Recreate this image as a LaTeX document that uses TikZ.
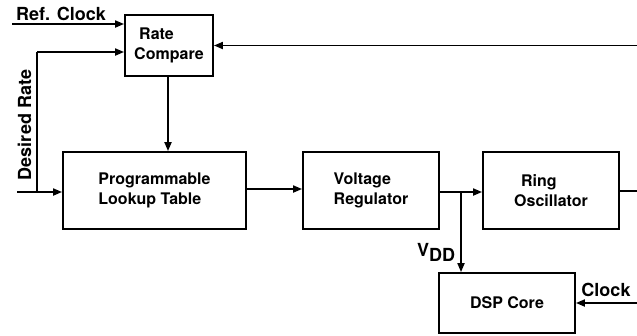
\documentclass[tikz,border=0pt]{standalone}
\usepackage{fontspec}
\setmainfont{TeX Gyre Heros}
\usetikzlibrary{arrows.meta}
\begin{document}
\begin{tikzpicture}[x=1pt,y=-1pt,
  blk/.style={draw, line width=1.8pt, inner sep=0pt, font=\fontsize{16}{19.5}\selectfont\bfseries, align=left},
  lbl/.style={inner sep=0pt, font=\fontsize{18}{20}\selectfont\bfseries},
  conn/.style={line width=1.8pt},
  arr/.style={conn, -{Triangle[length=9pt,width=7pt]}}]
\useasboundingbox (0,0) rectangle (637,335);
\clip (0,0) rectangle (637,335);
% blocks
\node[blk, minimum width=88pt, minimum height=61pt] (rc) at (169,45.5) {\hspace{5pt}Rate\\Compare};
\node[blk, minimum width=183pt, minimum height=77pt] (lut) at (154.5,190.5) {Programmable\\Lookup Table};
\node[blk, minimum width=136pt, minimum height=77pt] (vr) at (371,190.5) {Voltage\\Regulator};
\node[blk, minimum width=136pt, minimum height=77pt] (ro) at (551,190.5) {\hspace{7pt}Ring\\Oscillator};
\node[blk, minimum width=136pt, minimum height=60pt] (dsp) at (507,303) {DSP Core};
% labels
\node[lbl, anchor=base] (refl) at (61,20) {Ref. Clock};
\node[lbl, rotate=90, anchor=base] (desl) at (31,125) {Desired Rate};
\node[lbl, anchor=base] (clkl) at (606,296) {Clock};
\node[lbl, anchor=base] (vddl) at (436,256) {V\raisebox{-5pt}{DD}};
% coordinates
\coordinate (refin) at (12,24);
\coordinate (desin) at (17,192);
\coordinate (desj) at (37,192);
\coordinate (dest) at (37,52);
\coordinate (vj) at (461,192);
\coordinate (fbr) at (645,191);
\coordinate (fbt) at (645,45.5);
\coordinate (clkin) at (645,303);
% connectors
\draw[arr] (refin) -- (rc.west |- refin);
\draw[conn] (desin) -- (desj);
\draw[arr] (desj) -- (lut.west |- desj);
\draw[conn] (desj) -- (dest);
\draw[arr] (dest) -- (rc.west |- dest);
\draw[arr] (rc.south -| 168,0) -- (lut.north -| 168,0);
\draw[arr] (lut.east |- 0,189) -- (vr.west |- 0,189);
\draw[conn] (vr.east |- vj) -- (vj);
\draw[arr] (vj) -- (ro.west |- vj);
\draw[arr] (vj) -- (dsp.north -| vj);
\draw[conn] (ro.east |- fbr) -- (fbr) -- (fbt);
\draw[arr] (fbt) -- (rc.east);
\draw[arr] (clkin) -- (dsp.east);
\end{tikzpicture}
\end{document}
